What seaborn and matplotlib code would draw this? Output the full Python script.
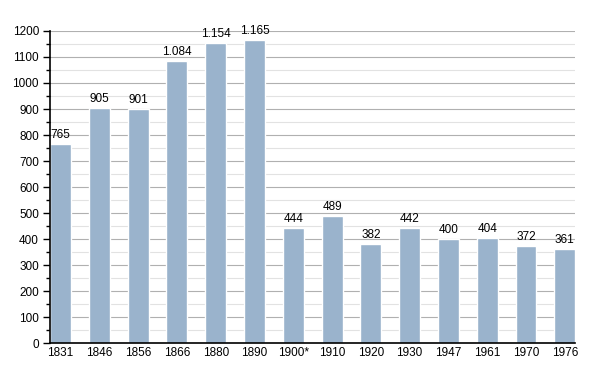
import matplotlib
matplotlib.use("Agg")
import matplotlib.pyplot as plt
import seaborn as sns
import pandas as pd
from matplotlib.ticker import MultipleLocator

years = ["1831", "1846", "1856", "1866", "1880", "1890", "1900*",
         "1910", "1920", "1930", "1947", "1961", "1970", "1976"]
population = [765, 905, 901, 1084, 1154, 1165, 444,
              489, 382, 442, 400, 404, 372, 361]

df = pd.DataFrame({"Year": years, "Population": population})

sns.set_style("white")
plt.rcParams["font.family"] = ["Liberation Sans", "DejaVu Sans"]
plt.rcParams["text.color"] = "black"
plt.rcParams["xtick.color"] = "black"
plt.rcParams["ytick.color"] = "black"

fig = plt.figure(figsize=(6.03, 3.73), dpi=100)
ax = fig.add_axes([0.083, 0.080, 0.871, 0.837])

sns.barplot(data=df, x="Year", y="Population", color="#9ab3cc",
            width=0.54, saturation=1, ax=ax, zorder=3)

ax.set_ylim(0, 1200)
ax.set_xlim(-0.27, len(years) - 0.73)
ax.yaxis.set_major_locator(MultipleLocator(100))
ax.yaxis.set_minor_locator(MultipleLocator(50))
ax.grid(which="major", axis="y", color="#b0b0b0", linewidth=0.8, zorder=0)
ax.grid(which="minor", axis="y", color="#e2e2e2", linewidth=0.8, zorder=0)

for side in ["top", "right"]:
    ax.spines[side].set_visible(False)
for side in ["left", "bottom"]:
    ax.spines[side].set_color("black")
    ax.spines[side].set_linewidth(1.2)
    ax.spines[side].set_zorder(4)

ax.tick_params(axis="y", which="major", length=5, width=1, color="black",
               labelcolor="black", labelsize=8.5, left=True, pad=3)
ax.tick_params(axis="y", which="minor", length=3, width=1, color="black", left=True)
ax.tick_params(axis="x", length=0, labelsize=8.5, labelcolor="black", pad=3)
ax.set_xlabel("")
ax.set_ylabel("")

for i, v in enumerate(population):
    label = f"{v:,}".replace(",", ".")
    ax.text(i, v + 12, label, ha="center", va="bottom", fontsize=8.5,
            color="black", zorder=5)

plt.savefig("out.png", dpi=100)
